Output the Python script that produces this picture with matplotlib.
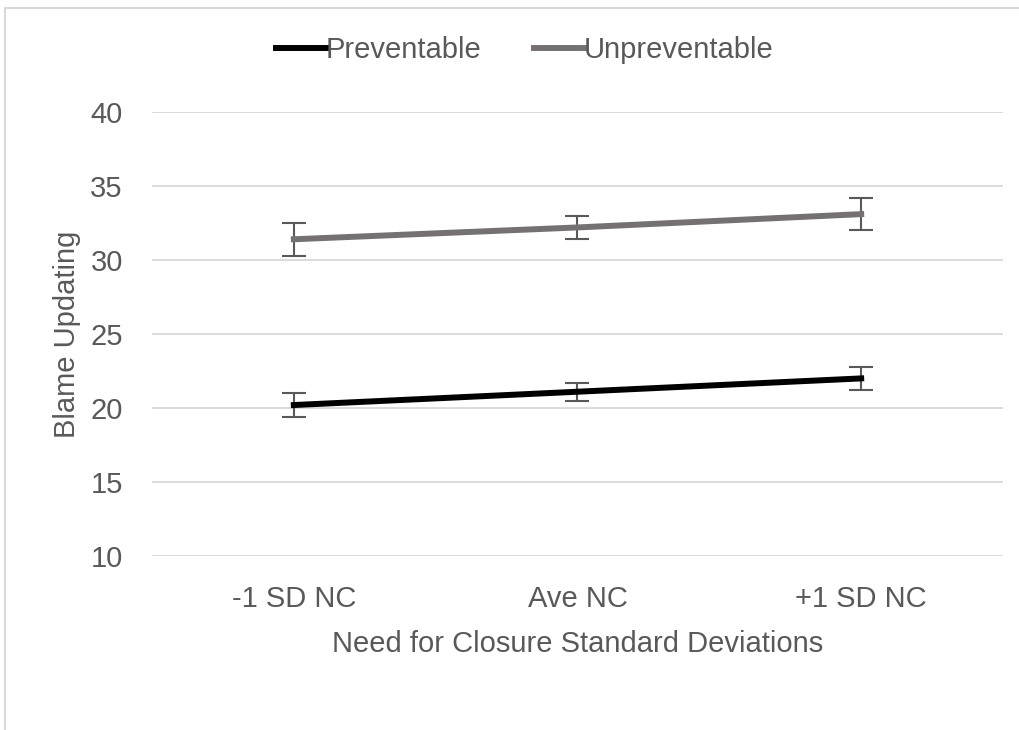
import matplotlib
matplotlib.use("Agg")
import matplotlib.pyplot as plt
from matplotlib.patches import Rectangle

plt.rcParams['font.family'] = ['Liberation Sans', 'DejaVu Sans']

categories = ['-1 SD NC', 'Ave NC', '+1 SD NC']
preventable = [20.2, 21.1, 22.0]
preventable_err = [0.78, 0.6, 0.78]
unpreventable = [31.4, 32.2, 33.1]
unpreventable_err = [1.1, 0.8, 1.1]
yticks = [10, 15, 20, 25, 30, 35, 40]

text_color = '#595959'
grid_color = '#d9d9d9'

fig = plt.figure(figsize=(10.2, 7.3), dpi=100)
ax = fig.add_axes([152 / 1020, 1 - 556 / 730, 851 / 1020, 444 / 730])

x = list(range(len(categories)))
ax.errorbar(x, preventable, yerr=preventable_err, color='black', lw=4.3,
            ecolor=text_color, elinewidth=1.5, capsize=8.5, capthick=1.5,
            label='Preventable', zorder=3)
ax.errorbar(x, unpreventable, yerr=unpreventable_err, color='#767171', lw=4.3,
            ecolor=text_color, elinewidth=1.5, capsize=8.5, capthick=1.5,
            label='Unpreventable', zorder=3)

ax.set_xlim(-0.5, len(categories) - 0.5)
ax.set_ylim(10, 40)
ax.set_yticks(yticks)
ax.set_xticks(x)
ax.set_xticklabels(categories)
ax.yaxis.grid(True, color=grid_color, lw=1.3)
ax.set_axisbelow(True)
for s in ax.spines.values():
    s.set_visible(False)
ax.tick_params(axis='both', length=0, labelsize=21, colors=text_color)
ax.tick_params(axis='y', pad=21)
ax.tick_params(axis='x', pad=21)

ax.set_ylabel('Blame Updating', fontsize=21, color=text_color, labelpad=7)
ax.set_xlabel('Need for Closure Standard Deviations', fontsize=21,
              color=text_color, labelpad=12)

# drop the error bars from the legend handles
h, l = ax.get_legend_handles_labels()
h = [hh[0] for hh in h]
leg = ax.legend(h, l, loc='center', bbox_to_anchor=(0.438, 1.14), ncol=2,
                frameon=False, fontsize=21, handlelength=1.7, handletextpad=0.0,
                columnspacing=1.8, labelcolor=text_color)

# chart border (only top/left visible in the crop)
fig.patches.append(Rectangle((5 / 1020, -0.1), 1.2, 1.1 - 8 / 730,
                             transform=fig.transFigure, fill=False,
                             edgecolor=grid_color, lw=1.5))

fig.savefig('out.png', dpi=100)
